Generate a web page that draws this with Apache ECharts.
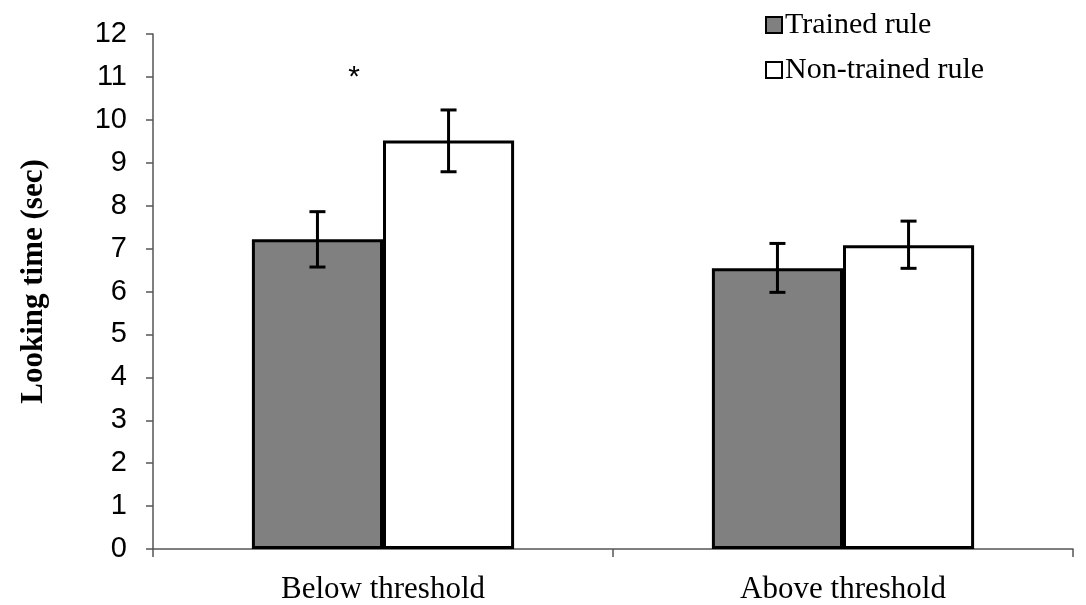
<!DOCTYPE html>
<html>
<head>
<meta charset="utf-8">
<script src="https://cdn.jsdelivr.net/npm/echarts@6/dist/echarts.min.js"></script>
<style>html,body{margin:0;padding:0;background:#fff;}#c{width:1086px;height:605px;}</style>
</head>
<body>
<div id="c"></div>
<script>
var categories = ['Below threshold', 'Above threshold'];
var seriesNames = ['Trained rule', 'Non-trained rule'];
var trained = [7.22, 6.54];
var trainedLow = [6.57, 5.98];
var trainedHigh = [7.86, 7.12];
var nonTrained = [9.52, 7.08];
var nonTrainedLow = [8.79, 6.54];
var nonTrainedHigh = [10.23, 7.64];
var yTicks = [0, 1, 2, 3, 4, 5, 6, 7, 8, 9, 10, 11, 12];
var significance = [{ category: 0, value: 11, text: '*' }];

var chart = echarts.init(document.getElementById('c'));
var BAR_FRAC = 0.285;

function errorSeries(name, lows, highs, side) {
  return {
    type: 'custom',
    name: name + ' error',
    z: 10,
    silent: true,
    data: lows.map(function (l, i) { return [i, l, highs[i]]; }),
    renderItem: function (params, api) {
      var i = api.value(0);
      var band = api.size([1, 0])[0];
      var off = side * band * BAR_FRAC / 2;
      var lo = api.coord([i, api.value(1)]);
      var hi = api.coord([i, api.value(2)]);
      var x = lo[0] + off;
      var cap = 8;
      var st = { stroke: '#000', lineWidth: 3 };
      return {
        type: 'group',
        children: [
          { type: 'line', shape: { x1: x, y1: lo[1], x2: x, y2: hi[1] }, style: st },
          { type: 'line', shape: { x1: x - cap, y1: lo[1], x2: x + cap, y2: lo[1] }, style: st },
          { type: 'line', shape: { x1: x - cap, y1: hi[1], x2: x + cap, y2: hi[1] }, style: st }
        ]
      };
    }
  };
}

chart.setOption({
  animation: false,
  backgroundColor: '#fff',
  grid: { left: 153, right: 13, top: 34, bottom: 54 },
  legend: {
    data: seriesNames,
    orient: 'vertical',
    left: 760,
    top: 5,
    itemWidth: 16,
    itemHeight: 16,
    itemGap: 15,
    icon: 'rect',
    textStyle: { fontFamily: 'Liberation Serif', fontSize: 30, color: '#000', padding: [0, 0, 0, -2] }
  },
  xAxis: {
    type: 'category',
    data: categories,
    axisLine: { lineStyle: { color: '#555', width: 1.5 } },
    axisTick: { show: true, length: 8, lineStyle: { color: '#555', width: 1.5 } },
    axisLabel: { fontFamily: 'Liberation Serif', fontSize: 31, color: '#000', margin: 25 }
  },
  yAxis: {
    type: 'value',
    min: yTicks[0],
    max: yTicks[yTicks.length - 1],
    interval: 1,
    name: 'Looking time (sec)',
    nameLocation: 'middle',
    nameGap: 104,
    nameRotate: 90,
    nameTextStyle: { fontFamily: 'Liberation Serif', fontWeight: 'bold', fontSize: 31, color: '#000', padding: [0, 0, 0, 20] },
    axisLine: { show: true, lineStyle: { color: '#555', width: 1.5 } },
    axisTick: { show: true, inside: false, length: 7, lineStyle: { color: '#555', width: 1.5 } },
    axisLabel: { fontFamily: 'Liberation Sans', fontSize: 29, color: '#000', margin: 26 },
    splitLine: { show: false }
  },
  series: [
    {
      name: seriesNames[0],
      type: 'bar',
      data: trained,
      barWidth: (BAR_FRAC * 100) + '%',
      barGap: '0%',
      itemStyle: { color: '#808080', borderColor: '#000', borderWidth: 3 }
    },
    {
      name: seriesNames[1],
      type: 'bar',
      data: nonTrained,
      barWidth: (BAR_FRAC * 100) + '%',
      barGap: '0%',
      itemStyle: { color: '#fff', borderColor: '#000', borderWidth: 3 }
    },
    errorSeries(seriesNames[0], trainedLow, trainedHigh, -1),
    errorSeries(seriesNames[1], nonTrainedLow, nonTrainedHigh, 1)
  ]
});

var gfx = significance.map(function (s) {
  var p = chart.convertToPixel({ gridIndex: 0 }, [s.category, s.value]);
  return {
    type: 'text',
    x: p[0] - 29,
    y: p[1] + 1,
    style: { text: s.text, fontFamily: 'Liberation Sans', fontSize: 30, fill: '#000', align: 'center', verticalAlign: 'middle' }
  };
});
chart.setOption({ graphic: gfx });
</script>
</body>
</html>
